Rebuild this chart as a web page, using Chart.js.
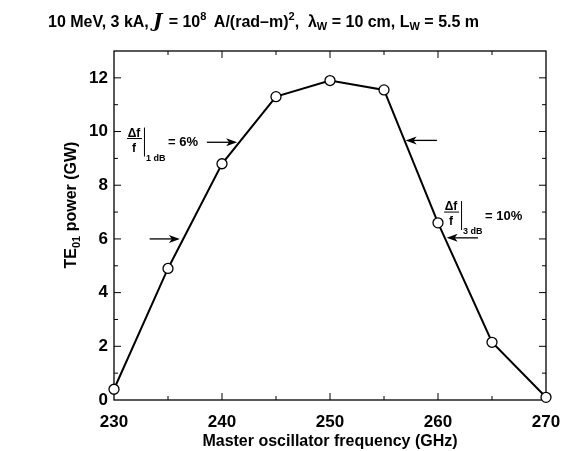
<!DOCTYPE html>
<html>
<head>
<meta charset="utf-8">
<script src="https://cdn.jsdelivr.net/npm/chart.js@4.4.1/dist/chart.umd.min.js"></script>
<style>
  body { margin: 0; background: #fff; }
  #wrap { width: 575px; height: 451px; }
</style>
</head>
<body>
<div id="wrap"><canvas id="myChart"></canvas></div>
<script>
// data
const freqGHz = [230, 235, 240, 245, 250, 255, 260, 265, 270];
const powerGW = [0.4, 4.9, 8.8, 11.3, 11.9, 11.55, 6.6, 2.15, 0.1];

// bandwidth arrows: [tail freq, tip freq, power]
const arrows = [
    [233.3, 236.1, 6.0],
    [238.6, 241.4, 9.6],
    [259.9, 257.0, 9.67],
    [263.7, 260.8, 6.04]
];

// bandwidth notes: anchor freq, anchor power, subscript, value text
const noteFreq = [231.2, 260.56];
const notePower = [9.74, 7.0];
const noteSub = ['1 dB', '3 dB'];
const noteText = ['= 6%', '= 10%'];

const FONT = '"Liberation Sans", Arial, sans-serif';

function drawRuns(ctx, x, y, runs) {
    ctx.textBaseline = 'alphabetic';
    ctx.textAlign = 'left';
    for (const r of runs) {
        ctx.font = r.font;
        ctx.fillText(r.t, x, y + (r.dy || 0));
        x += ctx.measureText(r.t).width + (r.gap || 0);
    }
}

const framePlugin = {
    id: 'frame',
    beforeDatasetsDraw(chart) {
        const {ctx, chartArea: a, scales: {x, y}} = chart;
        ctx.save();
        ctx.strokeStyle = '#000';
        ctx.lineWidth = 1.3;
        ctx.strokeRect(a.left, a.top, a.right - a.left, a.bottom - a.top);
        ctx.lineWidth = 1;
        ctx.beginPath();
        for (let v = 1; v < 13; v++) {
            const py = y.getPixelForValue(v);
            const len = v % 2 === 0 ? 7 : 4;
            ctx.moveTo(a.left, py); ctx.lineTo(a.left + len, py);
            ctx.moveTo(a.right, py); ctx.lineTo(a.right - len, py);
        }
        for (let f = 235; f < 270; f += 5) {
            const px = x.getPixelForValue(f);
            const len = f % 10 === 0 ? 7 : 4;
            ctx.moveTo(px, a.bottom); ctx.lineTo(px, a.bottom - len);
            ctx.moveTo(px, a.top); ctx.lineTo(px, a.top + len);
        }
        ctx.stroke();
        ctx.restore();
    },
    afterDatasetsDraw(chart) {
        const {ctx, scales: {x, y}} = chart;
        ctx.save();
        ctx.strokeStyle = '#000';
        ctx.fillStyle = '#000';
        // arrows
        for (const [f0, f1, p] of arrows) {
            const x0 = x.getPixelForValue(f0), x1 = x.getPixelForValue(f1), py = y.getPixelForValue(p);
            const dir = Math.sign(x1 - x0);
            ctx.lineWidth = 1.3;
            ctx.beginPath();
            ctx.moveTo(x0, py); ctx.lineTo(x1 - dir * 6, py);
            ctx.stroke();
            ctx.beginPath();
            ctx.moveTo(x1, py);
            ctx.lineTo(x1 - dir * 11, py - 4);
            ctx.lineTo(x1 - dir * 8, py);
            ctx.lineTo(x1 - dir * 11, py + 4);
            ctx.closePath();
            ctx.fill();
        }
        // delta f / f notes
        for (let i = 0; i < noteFreq.length; i++) {
            const ax = x.getPixelForValue(noteFreq[i]);
            const ay = y.getPixelForValue(notePower[i]);
            ctx.font = 'bold 12px ' + FONT;
            ctx.textAlign = 'center';
            ctx.textBaseline = 'alphabetic';
            ctx.fillText('\u0394f', ax + 7, ay - 2);
            ctx.fillText('f', ax + 7, ay + 13);
            ctx.lineWidth = 1;
            ctx.beginPath();
            ctx.moveTo(ax, ay); ctx.lineTo(ax + 15, ay);
            ctx.moveTo(ax + 17.5, ay - 11); ctx.lineTo(ax + 17.5, ay + 18);
            ctx.stroke();
            ctx.textAlign = 'left';
            ctx.font = 'bold 9px ' + FONT;
            ctx.fillText(noteSub[i], ax + 19, ay + 22);
            ctx.font = 'bold 13px ' + FONT;
            ctx.textBaseline = 'middle';
            ctx.fillText(noteText[i], ax + 41, ay + 4);
        }
        ctx.restore();
    },
    afterDraw(chart) {
        const {ctx} = chart;
        ctx.save();
        ctx.fillStyle = '#000';
        const B = 'bold 16px ' + FONT, S = 'bold 11px ' + FONT;
        drawRuns(ctx, 48, 27, [
            {t: '10 MeV, 3 kA, ', font: B},
            {t: 'J', font: 'bold italic 19px "DejaVu Serif", serif', gap: 2},
            {t: ' = 10', font: B},
            {t: '8', font: S, dy: -7, gap: 3},
            {t: ' A/(rad\u2013m)', font: B},
            {t: '2', font: S, dy: -7},
            {t: ',  \u03bb', font: B},
            {t: 'W', font: S, dy: 3},
            {t: ' = 10 cm, L', font: B},
            {t: 'W', font: S, dy: 3},
            {t: ' = 5.5 m', font: B}
        ]);
        // y axis title with subscript
        ctx.translate(76, 205);
        ctx.rotate(-Math.PI / 2);
        ctx.font = B;
        const w1 = ctx.measureText('TE').width;
        ctx.font = S;
        const w2 = ctx.measureText('01').width;
        ctx.font = B;
        const w3 = ctx.measureText(' power (GW)').width;
        drawRuns(ctx, -(w1 + w2 + w3) / 2, 0, [
            {t: 'TE', font: B},
            {t: '01', font: S, dy: 4},
            {t: ' power (GW)', font: B}
        ]);
        ctx.restore();
    }
};

const data = {
    datasets: [{
        label: 'TE01 power',
        data: freqGHz.map((f, i) => ({x: f, y: powerGW[i]})),
        borderColor: '#000',
        borderWidth: 2,
        pointRadius: 5,
        pointBackgroundColor: '#fff',
        pointBorderColor: '#000',
        pointBorderWidth: 1.3,
        tension: 0,
        clip: false
    }]
};

const config = {
    type: 'line',
    data: data,
    options: {
        responsive: true,
        maintainAspectRatio: false,
        animation: false,
        layout: { padding: { left: 0, right: 29, top: 51, bottom: 0 } },
        plugins: {
            legend: { display: false },
            tooltip: { enabled: false }
        },
        scales: {
            x: {
                type: 'linear',
                min: 230,
                max: 270,
                grid: { display: false, drawTicks: false },
                border: { display: false },
                ticks: {
                    stepSize: 10,
                    color: '#000',
                    padding: 12,
                    font: { family: FONT, size: 17, weight: 'bold' }
                },
                title: {
                    display: true,
                    text: 'Master oscillator frequency (GHz)',
                    color: '#000',
                    padding: { top: 0, bottom: 0 },
                    font: { family: FONT, size: 16, weight: 'bold' }
                },
                afterFit(scale) { scale.height = 51; }
            },
            y: {
                min: 0,
                max: 13,
                grid: { display: false, drawTicks: false },
                border: { display: false },
                ticks: {
                    stepSize: 2,
                    color: '#000',
                    padding: 6,
                    font: { family: FONT, size: 17, weight: 'bold' },
                    callback: (v) => (v > 12 ? '' : v)
                },
                afterFit(scale) { scale.width = 114; }
            }
        }
    },
    plugins: [framePlugin]
};

new Chart(document.getElementById('myChart'), config);
</script>
</body>
</html>
